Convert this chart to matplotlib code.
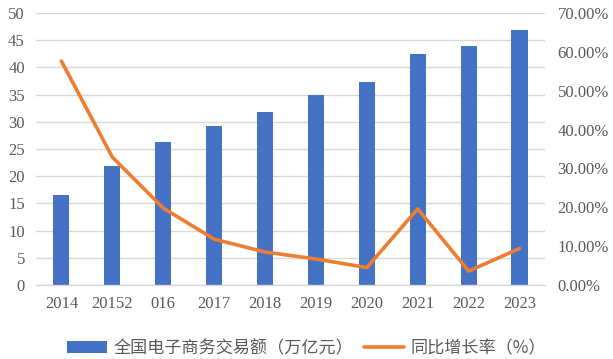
import matplotlib
matplotlib.use("Agg")
import matplotlib.pyplot as plt
from matplotlib.ticker import FuncFormatter

# data
years = ["2014", "20152", "016", "2017", "2018", "2019", "2020", "2021", "2022", "2023"]
volume = [16.5, 21.9, 26.3, 29.2, 31.8, 34.9, 37.3, 42.4, 43.9, 46.9]
growth = [57.6, 32.9, 19.8, 11.8, 8.5, 6.7, 4.5, 19.6, 3.6, 9.4]

bar_label = "全国电子商务交易额（万亿元）"
line_label = "同比增长率（%）"

grey = "#595959"
serif = ["Liberation Serif", "DejaVu Serif"]
cjk = ["Noto Sans CJK SC", "DejaVu Sans"]

fig = plt.figure(figsize=(6.13, 3.59), dpi=100)
ax = fig.add_axes([0.0587, 0.206, 0.8303, 0.758])
x = list(range(len(years)))

bars = ax.bar(x, volume, width=0.315, color="#4472c4", zorder=2, label=bar_label)
ax.set_xlim(-0.5, len(years) - 0.5)
ax.set_ylim(0, 50)
ax.set_yticks(range(0, 51, 5))
ax.grid(axis="y", color="#d9d9d9", linewidth=1.0, zorder=0)
ax.set_axisbelow(True)
for s in ["top", "right", "left"]:
    ax.spines[s].set_visible(False)
ax.spines["bottom"].set_color("#d9d9d9")
ax.spines["bottom"].set_linewidth(1.0)
ax.tick_params(length=0, labelsize=12, colors=grey, pad=8)
ax.set_xticks(x)
ax.set_xticklabels(years)
for t in ax.get_xticklabels() + ax.get_yticklabels():
    t.set_family(serif)

ax2 = ax.twinx()
line, = ax2.plot(x, growth, color="#ed7d31", linewidth=2.6, solid_capstyle="round",
                 solid_joinstyle="round", zorder=3, label=line_label)
ax2.set_ylim(0, 70)
ax2.set_yticks(range(0, 71, 10))
ax2.yaxis.set_major_formatter(FuncFormatter(lambda v, p: f"{v:.2f}%"))
for s in ["top", "right", "left", "bottom"]:
    ax2.spines[s].set_visible(False)
ax2.tick_params(length=0, labelsize=12, colors=grey, pad=9)
for t in ax2.get_yticklabels():
    t.set_family(serif)

leg = fig.legend([bars, line], [bar_label, line_label], loc="center",
                 bbox_to_anchor=(0.5, 0.031), ncol=2, frameon=False,
                 prop={"family": cjk, "size": 12.3}, handlelength=2.35,
                 columnspacing=0.65, handletextpad=0.35, borderpad=0)
for t in leg.get_texts():
    t.set_color(grey)

fig.savefig("out.png", dpi=100)
